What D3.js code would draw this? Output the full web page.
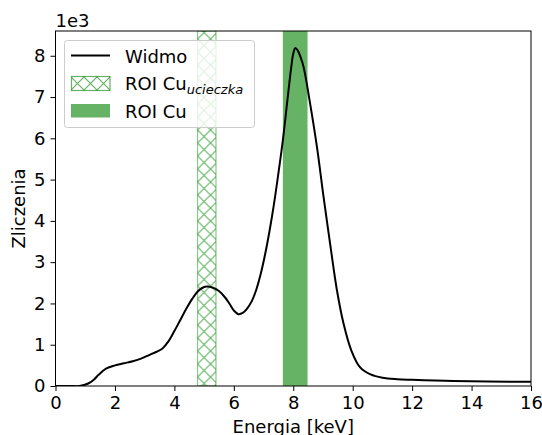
<!DOCTYPE html>
<html>
<head>
<meta charset="utf-8">
<script src="https://cdn.jsdelivr.net/npm/d3@7"></script>
<style>
  html, body { margin: 0; padding: 0; background: #fff; }
  svg { display: block; font-family: "DejaVu Sans", sans-serif; }
</style>
</head>
<body>
<svg id="chart" width="542" height="435"></svg>
<script>
// Spectrum: energy (keV) and counts
const energy = [0, 0.5, 0.8, 1.1, 1.3, 1.45, 1.7, 2.0, 2.3, 2.6, 2.9, 3.15, 3.4, 3.6, 3.8, 4.0, 4.2, 4.4, 4.6, 4.8, 4.95, 5.1, 5.3, 5.5, 5.7, 5.85, 6.0, 6.16, 6.3, 6.44, 6.6, 6.75, 6.9, 7.05, 7.2, 7.35, 7.5, 7.65, 7.8, 7.92, 8.0, 8.07, 8.15, 8.25, 8.35, 8.57, 8.8, 9.02, 9.24, 9.47, 9.69, 9.95, 10.25, 10.6, 11.0, 11.5, 12.0, 13.4, 16.0];
const counts = [0, 0, 0, 60, 160, 270, 420, 500, 550, 600, 670, 750, 830, 910, 1080, 1330, 1600, 1870, 2110, 2300, 2380, 2410, 2380, 2300, 2150, 2000, 1830, 1740, 1770, 1870, 2050, 2320, 2700, 3180, 3750, 4400, 5150, 5950, 6900, 7650, 8050, 8190, 8130, 7960, 7720, 6830, 5780, 4580, 3450, 2320, 1520, 870, 450, 280, 200, 165, 150, 120, 100];

// Regions of interest (keV)
const roiEscape = [4.78, 5.40];
const roiCu = [7.65, 8.48];

const xTicks = [0, 2, 4, 6, 8, 10, 12, 14, 16];
const yTicks = [0, 1000, 2000, 3000, 4000, 5000, 6000, 7000, 8000];
const legendLabels = ["Widmo", "ROI Cu", "ROI Cu"];

const svg = d3.select("#chart");
const pL = 55.5, pR = 531, pT = 31, pB = 386;
const x = d3.scaleLinear().domain([0, 16]).range([pL, pR]);
const y = d3.scaleLinear().domain([0, 8600]).range([pB, pT]);
const green = "green";
const font = 18;

// Cross-hatch pattern
const defs = svg.append("defs");
const hs = 13;
const pat = defs.append("pattern")
  .attr("id", "xhatch")
  .attr("patternUnits", "userSpaceOnUse")
  .attr("width", hs).attr("height", hs)
  .attr("x", x(roiEscape[0]));
pat.append("path")
  .attr("d", `M0,0L${hs},${hs}M0,${hs}L${hs},0M-1,1L1,-1M${hs-1},${hs+1}L${hs+1},${hs-1}`)
  .attr("stroke", green).attr("stroke-opacity", 0.6)
  .attr("stroke-width", 1.2).attr("fill", "none");

const clip = defs.append("clipPath").attr("id", "plotclip");
clip.append("rect").attr("x", pL).attr("y", pT)
  .attr("width", pR - pL).attr("height", pB - pT);

const plot = svg.append("g").attr("clip-path", "url(#plotclip)");

// ROI bands
plot.append("rect")
  .attr("x", x(roiEscape[0])).attr("y", pT)
  .attr("width", x(roiEscape[1]) - x(roiEscape[0]))
  .attr("height", pB - pT)
  .attr("fill", "url(#xhatch)")
  .attr("stroke", green).attr("stroke-opacity", 0.45).attr("stroke-width", 1.2);

plot.append("rect")
  .attr("x", x(roiCu[0])).attr("y", pT)
  .attr("width", x(roiCu[1]) - x(roiCu[0]))
  .attr("height", pB - pT)
  .attr("fill", green).attr("fill-opacity", 0.6);

// Spectrum line
const line = d3.line()
  .x((d, i) => x(energy[i]))
  .y((d, i) => y(counts[i]))
  .curve(d3.curveCatmullRom.alpha(0.5));
plot.append("path")
  .datum(counts)
  .attr("d", line)
  .attr("fill", "none")
  .attr("stroke", "#000")
  .attr("stroke-width", 2)
  .attr("stroke-linejoin", "round");

// Axes
const xAxis = svg.append("g")
  .attr("transform", `translate(0,${pB})`)
  .call(d3.axisBottom(x).tickValues(xTicks).tickSize(5).tickPadding(5).tickFormat(d3.format("d")));
const yAxis = svg.append("g")
  .attr("transform", `translate(${pL},0)`)
  .call(d3.axisLeft(y).tickValues(yTicks).tickSize(5).tickPadding(5).tickFormat(d => d / 1000));
[xAxis, yAxis].forEach(a => {
  a.select(".domain").remove();
  a.selectAll("text").attr("font-size", font).attr("font-family", "DejaVu Sans").attr("fill", "#000");
  a.selectAll("line").attr("stroke", "#000").attr("stroke-width", 1);
});

// Frame
svg.append("rect")
  .attr("x", pL).attr("y", pT)
  .attr("width", pR - pL).attr("height", pB - pT)
  .attr("fill", "none").attr("stroke", "#000").attr("stroke-width", 1);

// Offset text and axis labels
svg.append("text").attr("x", pL).attr("y", 26.5)
  .attr("font-size", font).text("1e3");
svg.append("text")
  .attr("x", (pL + pR) / 2).attr("y", 433)
  .attr("text-anchor", "middle").attr("font-size", font)
  .text("Energia [keV]");
svg.append("text")
  .attr("transform", `translate(25,${(pT + pB) / 2}) rotate(-90)`)
  .attr("text-anchor", "middle").attr("font-size", font)
  .text("Zliczenia");

// Legend
const lg = svg.append("g");
lg.append("rect")
  .attr("x", 64.5).attr("y", 40.5).attr("width", 190).attr("height", 87)
  .attr("rx", 3).attr("ry", 3)
  .attr("fill", "#fff").attr("fill-opacity", 0.8)
  .attr("stroke", "#ccc").attr("stroke-width", 1);

lg.append("line")
  .attr("x1", 71).attr("x2", 110).attr("y1", 55.5).attr("y2", 55.5)
  .attr("stroke", "#000").attr("stroke-width", 2);
lg.append("text").attr("x", 125).attr("y", 62.5).attr("font-size", font).text(legendLabels[0]);

const hatchPat2 = defs.append("pattern")
  .attr("id", "xhatch2")
  .attr("patternUnits", "userSpaceOnUse")
  .attr("width", hs).attr("height", hs)
  .attr("x", 71).attr("y", 77);
hatchPat2.append("path")
  .attr("d", `M0,0L${hs},${hs}M0,${hs}L${hs},0`)
  .attr("stroke", green).attr("stroke-opacity", 0.6)
  .attr("stroke-width", 1.2).attr("fill", "none");
lg.append("rect")
  .attr("x", 71.5).attr("y", 76.5).attr("width", 38.5).attr("height", 14)
  .attr("fill", "url(#xhatch2)")
  .attr("stroke", green).attr("stroke-opacity", 0.6).attr("stroke-width", 1.2);
const t2 = lg.append("text").attr("x", 125).attr("y", 90).attr("font-size", font);
t2.append("tspan").text(legendLabels[1]);
t2.append("tspan").attr("dy", 3.5).attr("font-size", 13).attr("font-style", "italic").text("ucieczka");

lg.append("rect")
  .attr("x", 71).attr("y", 104).attr("width", 39).attr("height", 13.5)
  .attr("fill", green).attr("fill-opacity", 0.6);
lg.append("text").attr("x", 125).attr("y", 117.5).attr("font-size", font).text(legendLabels[2]);
</script>
</body>
</html>
